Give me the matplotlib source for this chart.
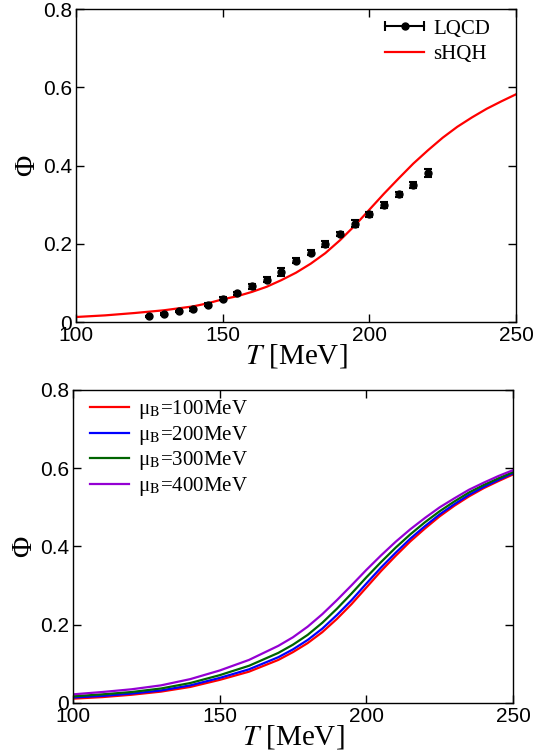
import numpy as np
import matplotlib
matplotlib.use("Agg")
import matplotlib.pyplot as plt
from matplotlib.lines import Line2D
from matplotlib.legend_handler import HandlerBase

plt.rcParams['font.family'] = ['Liberation Sans', 'DejaVu Sans']
plt.rcParams['mathtext.fontset'] = 'stix'

# lattice QCD points
T_lat = [125, 130, 135, 140, 145, 150, 155, 160, 165, 170,
         175, 180, 185, 190, 195, 200, 205, 210, 215, 220]
phi_lat = [0.0145, 0.021, 0.027, 0.032, 0.044, 0.059, 0.073, 0.091, 0.108, 0.128,
           0.157, 0.177, 0.199, 0.225, 0.251, 0.275, 0.299, 0.326, 0.350, 0.380]
err_lat = [0.002, 0.002, 0.002, 0.003, 0.004, 0.004, 0.004, 0.006, 0.006, 0.010,
           0.007, 0.007, 0.007, 0.006, 0.009, 0.006, 0.007, 0.007, 0.007, 0.010]

# sHQH model curve (mu_B = 0)
T_mod = [100, 110, 120, 130, 140, 145, 150, 155, 160, 165, 170, 175, 180, 185,
         190, 195, 200, 205, 210, 215, 220, 225, 230, 235, 240, 245, 250]
phi_mod = [0.0128, 0.017, 0.023, 0.030, 0.040, 0.048, 0.058, 0.066, 0.077, 0.090,
           0.107, 0.126, 0.149, 0.176, 0.209, 0.246, 0.287, 0.328, 0.367, 0.405,
           0.439, 0.471, 0.499, 0.523, 0.545, 0.564, 0.582]

# finite mu_B curves
T_mu = [100, 110, 120, 130, 140, 150, 160, 170, 175, 180, 185, 190, 195,
        200, 205, 210, 215, 220, 225, 230, 235, 240, 245, 250]
phi_mu100 = [0.011, 0.015, 0.021, 0.029, 0.041, 0.059, 0.080, 0.110, 0.130, 0.153,
             0.181, 0.215, 0.253, 0.295, 0.337, 0.376, 0.413, 0.446, 0.477, 0.504,
             0.528, 0.549, 0.567, 0.584]
phi_mu200 = [0.014, 0.018, 0.024, 0.032, 0.045, 0.064, 0.086, 0.117, 0.137, 0.161,
             0.190, 0.225, 0.263, 0.305, 0.346, 0.384, 0.420, 0.452, 0.482, 0.508,
             0.532, 0.552, 0.570, 0.587]
phi_mu300 = [0.017, 0.022, 0.028, 0.037, 0.051, 0.071, 0.095, 0.128, 0.149, 0.174,
             0.205, 0.241, 0.280, 0.321, 0.360, 0.397, 0.431, 0.462, 0.490, 0.515,
             0.538, 0.557, 0.574, 0.590]
phi_mu400 = [0.022, 0.028, 0.035, 0.045, 0.061, 0.083, 0.110, 0.146, 0.168, 0.195,
             0.227, 0.263, 0.301, 0.340, 0.377, 0.412, 0.444, 0.473, 0.500, 0.523,
             0.545, 0.563, 0.580, 0.595]
mu_labels = ['100', '200', '300', '400']
mu_colors = ['#ff0000', '#0000ff', '#006400', '#9400d3']


class ErrHandler(HandlerBase):
    # gnuplot style errorbar key: horizontal bar with caps and a dot
    def create_artists(self, legend, orig, xd, yd, w, h, fs, trans):
        x0, x1 = -xd, -xd + w
        yc = (h - yd) / 2.0
        line = Line2D([x0, x1], [yc, yc], color='k', lw=1.5)
        caps = Line2D([x0, x1], [yc, yc], ls='none', marker='|', ms=7, mew=1.5, color='k')
        dot = Line2D([(x0 + x1) / 2], [yc], ls='none', marker='o', ms=5, color='k')
        for a in (line, caps, dot):
            a.set_transform(trans)
        return [line, caps, dot]


def style_axes(ax):
    ax.set_xlim(100, 250)
    ax.set_ylim(0, 0.8)
    ax.set_xticks([100, 150, 200, 250])
    ax.set_yticks([0, 0.2, 0.4, 0.6, 0.8])
    ax.set_yticklabels(['0', '0.2', '0.4', '0.6', '0.8'])
    ax.tick_params(direction='in', top=True, right=True, length=6, width=1,
                   labelsize=15, pad=3)
    for s in ax.spines.values():
        s.set_linewidth(1.0)
    ax.set_xlabel('$T$ [MeV]', family='Liberation Serif', fontsize=21, labelpad=-2)
    ax.set_ylabel('Φ', family='Liberation Serif', fontsize=21, labelpad=2)


leg_font = {'family': 'Liberation Serif', 'size': 15}

fig = plt.figure(figsize=(5.58, 7.52), dpi=100)
ax1 = fig.add_axes([0.1362, 0.5718, 0.7885, 0.4162])
ax2 = fig.add_axes([0.1308, 0.0652, 0.7885, 0.4162])

# top panel
ax1.errorbar(T_lat, phi_lat, yerr=err_lat, fmt='o', color='k', ms=5,
             elinewidth=1.5, capsize=3, capthick=1.5, zorder=3)
ax1.plot(T_mod, phi_mod, color='#ff0000', lw=1.6)
style_axes(ax1)
h_lat = Line2D([], [], color='k')
h_mod = Line2D([], [], color='#ff0000', lw=1.6)
ax1.legend([h_lat, h_mod], ['LQCD', 'sHQH'], loc='upper right',
           bbox_to_anchor=(0.96, 0.995), frameon=False, prop=leg_font,
           handlelength=1.85, handletextpad=0.45, labelspacing=0.3,
           borderaxespad=0.0, handler_map={h_lat: ErrHandler()})

# bottom panel
series = [phi_mu100, phi_mu200, phi_mu300, phi_mu400]
for phi, lab, col in zip(series, mu_labels, mu_colors):
    ax2.plot(T_mu, phi, color=col, lw=1.6,
             label='μ$_{\\mathrm{B}}$=' + lab + 'MeV')
style_axes(ax2)
ax2.legend(loc='upper left', bbox_to_anchor=(0.02, 1.0), frameon=False,
           prop=leg_font, handlelength=1.85, handletextpad=0.45,
           labelspacing=0.12, borderaxespad=0.0)

fig.savefig('out.png', dpi=100)
